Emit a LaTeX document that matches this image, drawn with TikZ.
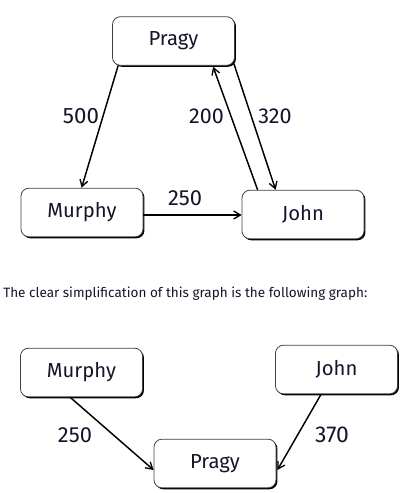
\documentclass[tikz,border=0pt]{standalone}
\usepackage{fontspec}
\setmainfont{Fira Sans}
\usetikzlibrary{arrows.meta,calc,shadows}
\definecolor{txt}{HTML}{14142A}
\tikzset{
  px/.style={x=0.75pt,y=-0.75pt},
  gbox/.style={draw=black!75, line width=0.6pt, fill=white, rounded corners=6pt,
    minimum width=91.5pt, minimum height=36.5pt, inner sep=0pt, text=txt,
    font=\fontsize{15.2}{17}\selectfont,
    drop shadow={shadow xshift=1.1pt, shadow yshift=-1.1pt, fill=black, opacity=1}},
  edge/.style={line width=1.1pt, -{Straight Barb[length=5pt,width=6pt,line width=1pt]}},
  wlabel/.style={text=txt, font=\fontsize{14}{16}\selectfont, inner sep=0pt}
}
\begin{document}
\begin{tikzpicture}[px]
\useasboundingbox (0,0) rectangle (401,493);
% top graph
\node[gbox] (P) at (173.5,41) {Pragy};
\node[gbox] (M) at (82,212.5) {Murphy};
\node[gbox] (J) at (303,214.5) {John};
\draw[edge] ($(P.south west)+(6,0)$) -- ($(M.north west)+(61,0)$);
\draw[edge] ($(J.north west)+(16,0)$) -- ($(P.south west)+(101,1)$);
\draw[edge] ($(P.south east)+(-1,-2)$) -- ($(J.north west)+(34,0)$);
\draw[edge] ($(M.east)+(0,2.5)$) -- ($(J.west)+(0,0.5)$);
\node[wlabel] (l500) at (81,116) {\resizebox{27pt}{!}{500}};
\node[wlabel] (l200) at (206.5,116) {\resizebox{26pt}{!}{200}};
\node[wlabel] (l320) at (275,116) {\resizebox{25pt}{!}{320}};
\node[wlabel] (l250a) at (185,198.5) {\resizebox{25.5pt}{!}{250}};
% text
\node[anchor=west, inner sep=0pt, text=txt] (T) at (3,294)
  {\resizebox{273pt}{!}{The clear simplification of this graph is the following graph:}};
% bottom graph
\node[gbox] (BM) at (81.5,372.5) {Murphy};
\node[gbox] (BJ) at (336.5,369.5) {John};
\node[gbox] (BP) at (215,463.5) {Pragy};
\draw[edge] ($(BM.south west)+(50,0)$) -- ($(BP.west)+(0,6.5)$);
\draw[edge] ($(BJ.south west)+(46,0)$) -- ($(BP.east)+(1,6.5)$);
\node[wlabel] (l250b) at (75,435) {\resizebox{25.5pt}{!}{250}};
\node[wlabel] (l370) at (332,435) {\resizebox{25.5pt}{!}{370}};
\end{tikzpicture}
\end{document}
